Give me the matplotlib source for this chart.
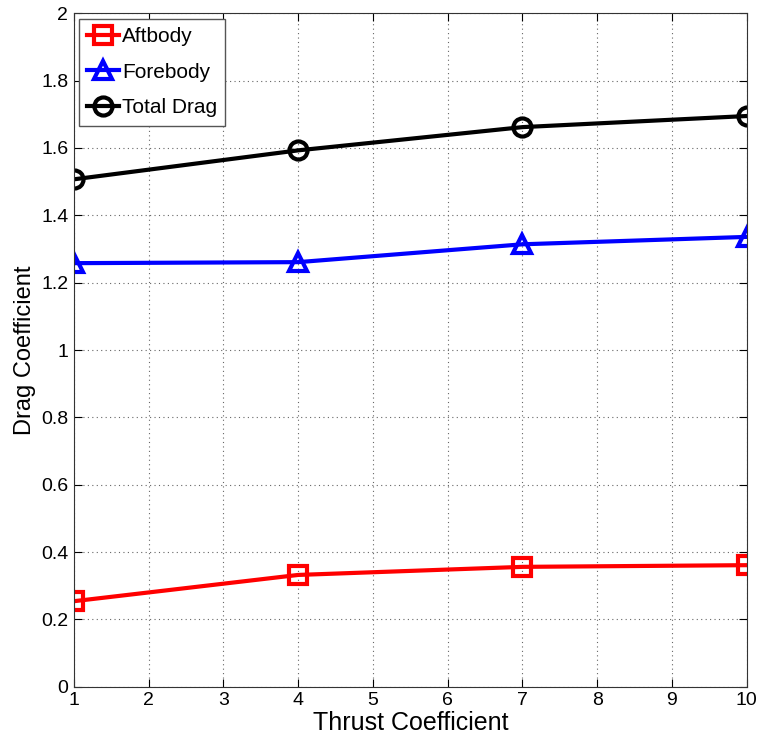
import matplotlib
matplotlib.use("Agg")
import matplotlib.pyplot as plt

plt.rcParams['font.family'] = ['Liberation Sans', 'DejaVu Sans']

thrust = [1, 4, 7, 10]
aftbody = [0.254, 0.332, 0.356, 0.361]
forebody = [1.258, 1.261, 1.314, 1.336]
total = [1.507, 1.593, 1.662, 1.695]
xticks = list(range(1, 11))
yticks = [0, 0.2, 0.4, 0.6, 0.8, 1.0, 1.2, 1.4, 1.6, 1.8, 2.0]
ylabels = ['0', '0.2', '0.4', '0.6', '0.8', '1', '1.2', '1.4', '1.6', '1.8', '2']

fig = plt.figure(figsize=(7.62, 7.4), dpi=100)
ax = fig.add_axes([0.097, 0.072, 0.883, 0.910])

kw = dict(lw=3, ms=13, mew=3, mfc='none')
ax.plot(thrust, aftbody, '-s', color='#ff0000', label='Aftbody', **kw)
ax.plot(thrust, forebody, '-^', color='#0000ff', label='Forebody', **kw)
ax.plot(thrust, total, '-o', color='black', label='Total Drag', **kw)

ax.set_xlim(1, 10)
ax.set_ylim(0, 2)
ax.set_xticks(xticks)
ax.set_yticks(yticks)
ax.set_yticklabels(ylabels)
ax.tick_params(direction='in', labelsize=14, length=6, top=True, right=True, pad=4)
ax.grid(True, linestyle=(0, (1, 3)), color='#666666', lw=0.8)
for s in ax.spines.values():
    s.set_color('#333333')
ax.set_xlabel('Thrust Coefficient', fontsize=18, labelpad=1)
ax.set_ylabel('Drag Coefficient', fontsize=17, labelpad=4)

leg = ax.legend(loc='upper left', fontsize=15, fancybox=False, framealpha=1,
                edgecolor='#555555', handlelength=1.5, handletextpad=0.15,
                borderpad=0.4, labelspacing=0.8, borderaxespad=0.25)
leg.get_frame().set_linewidth(1.0)

fig.savefig('out.png', dpi=100)
